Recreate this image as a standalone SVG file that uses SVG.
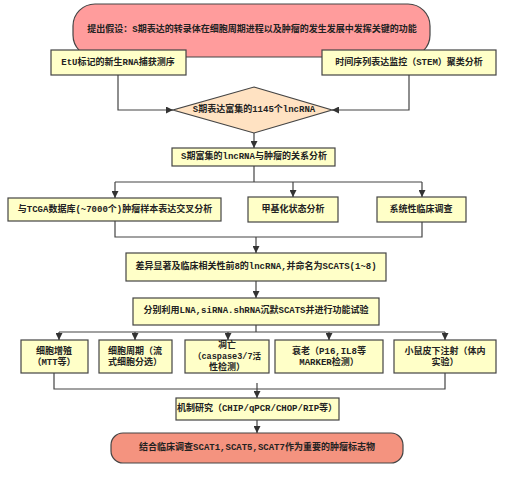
<svg xmlns="http://www.w3.org/2000/svg" width="511" height="481" viewBox="0 0 511 481">
<defs>
<marker id="ah" viewBox="0 0 10 10" refX="10" refY="5" markerWidth="7" markerHeight="7" orient="auto" markerUnits="userSpaceOnUse">
<path d="M0,0 L10,5 L0,10 z" fill="#333"/>
</marker>
<style>
.box{fill:#FFFFC8;stroke:#444;stroke-width:1.2}
.t{font-family:"Liberation Mono","Noto Sans CJK SC",monospace;font-size:9px;font-weight:bold;fill:#222;text-anchor:middle;dominant-baseline:central}
.s{font-size:8.5px}
.c{fill:none;stroke:#444;stroke-width:1.2}
.a{fill:none;stroke:#444;stroke-width:1.2;marker-end:url(#ah)}
</style>
</defs>
<rect width="511" height="481" fill="#fff"/>
<g id="hypothesis">
<rect x="73" y="4" width="357" height="53" rx="22" fill="#FF9C9C" stroke="#444" stroke-width="1.2"/>
<text class="t" x="252" y="30">提出假设：S期表达的转录体在细胞周期进程以及肿瘤的发生发展中发挥关键的功能</text>
</g>
<g id="etu">
<rect class="box" x="51" y="50" width="135" height="25"/>
<text class="t" x="118" y="63">EtU标记的新生RNA捕获测序</text>
</g>
<g id="stem">
<rect class="box" x="322" y="50" width="174" height="25"/>
<text class="t" x="409" y="63">时间序列表达监控（STEM）聚类分析</text>
</g>
<g id="diamond">
<polygon points="254,87 332,110 254,133 173,110" fill="#FFE2C2" stroke="#444" stroke-width="1.2"/>
<text class="t" x="254" y="110">S期表达富集的1145个lncRNA</text>
</g>
<g id="relation">
<rect class="box" x="172" y="148" width="163" height="18"/>
<text class="t" x="254" y="157">S期富集的lncRNA与肿瘤的关系分析</text>
</g>
<g id="tcga">
<rect class="box" x="8" y="198" width="213" height="23"/>
<text class="t" x="115" y="210">与TCGA数据库(~7000个)肿瘤样本表达交叉分析</text>
</g>
<g id="methyl">
<rect class="box" x="248" y="197" width="90" height="25"/>
<text class="t" x="293" y="210">甲基化状态分析</text>
</g>
<g id="clinical">
<rect class="box" x="377" y="197" width="89" height="25"/>
<text class="t" x="421" y="210">系统性临床调查</text>
</g>
<g id="top8">
<rect class="box" x="126" y="253" width="260" height="28"/>
<text class="t" x="256" y="267">差异显著及临床相关性前8的lncRNA,并命名为SCATS(1~8)</text>
</g>
<g id="silence">
<rect class="box" x="133" y="298" width="246" height="27"/>
<text class="t" x="256" y="311">分别利用LNA,siRNA.shRNA沉默SCATS并进行功能试验</text>
</g>
<g id="prolif">
<rect class="box" x="21" y="340" width="67" height="33"/>
<text class="t" x="54" y="352">细胞增殖</text>
<text class="t" x="54" y="363">（MTT等）</text>
</g>
<g id="cycle">
<rect class="box" x="99" y="340" width="73" height="33"/>
<text class="t" x="135" y="352">细胞周期（流</text>
<text class="t" x="135" y="363">式细胞分选）</text>
</g>
<g id="apoptosis">
<rect class="box" x="185" y="340" width="84" height="33"/>
<text class="t" x="227" y="346">凋亡</text>
<text class="t s" x="227" y="357">（caspase3/7活</text>
<text class="t" x="227" y="368">性检测）</text>
</g>
<g id="senescence">
<rect class="box" x="275" y="340" width="108" height="33"/>
<text class="t" x="329" y="352">衰老（P16,IL8等</text>
<text class="t" x="329" y="363">MARKER检测）</text>
</g>
<g id="mouse">
<rect class="box" x="394" y="340" width="102" height="33"/>
<text class="t" x="445" y="352">小鼠皮下注射（体内</text>
<text class="t" x="445" y="363">实验）</text>
</g>
<g id="mechanism">
<rect class="box" x="176" y="398" width="163" height="22"/>
<text class="t" x="257" y="409">机制研究（CHIP/qPCR/CHOP/RIP等）</text>
</g>
<g id="conclusion">
<rect x="111" y="433" width="292" height="30" rx="12" fill="#F4937F" stroke="#444" stroke-width="1.2"/>
<text class="t" x="257" y="448">结合临床调查SCAT1,SCAT5,SCAT7作为重要的肿瘤标志物</text>
</g>
<g id="connectors">
<path class="a" d="M118,75 V110 H173"/>
<path class="a" d="M409,75 V110 H332"/>
<path class="a" d="M254,133 V148"/>
<path class="c" d="M254,166 V182"/>
<path class="c" d="M115,182 H422"/>
<path class="a" d="M115,182 V198"/>
<path class="a" d="M293,182 V197"/>
<path class="a" d="M422,182 V197"/>
<path class="c" d="M115,221 V237 H422 V222"/>
<path class="a" d="M256,237 V253"/>
<path class="a" d="M256,281 V298"/>
<path class="c" d="M256,325 V332"/>
<path class="c" d="M59,332 H445"/>
<path class="a" d="M59,332 V340"/>
<path class="a" d="M135,332 V340"/>
<path class="a" d="M228,332 V340"/>
<path class="a" d="M329,332 V340"/>
<path class="a" d="M445,332 V340"/>
<path class="c" d="M54,373 V389 H445 V373"/>
<path class="a" d="M257,383 V398"/>
<path class="a" d="M257,420 V433"/>
</g>
</svg>
